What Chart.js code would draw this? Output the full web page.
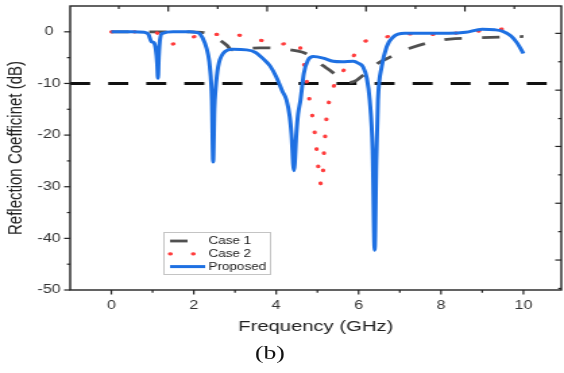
<!DOCTYPE html>
<html>
<head>
<meta charset="utf-8">
<script src="https://cdn.jsdelivr.net/npm/chart.js@4.4.1/dist/chart.umd.min.js"></script>
<style>
  html, body { margin: 0; padding: 0; background: #fff; overflow: hidden; }
  /* the source figure is stretched sideways, so the chart is drawn narrower and widened */
  #stage { position: relative; width: 418px; height: 373px; transform: scaleX(1.3493); transform-origin: 0 0; }
  #caption { position: absolute; left: 170px; width: 60px; top: 340px; text-align: center;
             font: 19px "Liberation Serif", "Times New Roman", serif; color: #111; line-height: 26px; }
</style>
</head>
<body>
<div id="stage">
  <canvas id="chart"></canvas>
  <div id="caption">(b)</div>
</div>
<script>
// Frequency (GHz) / reflection coefficient (dB)
const proposedFreq = [0, 0.5, 0.8, 0.9, 0.97, 1.03, 1.08, 1.11, 1.13, 1.15, 1.18, 1.24, 1.5, 1.9, 2.05, 2.15, 2.27, 2.35, 2.39, 2.44, 2.47, 2.5, 2.53, 2.59, 2.71, 2.95, 3.28, 3.5, 3.68, 3.85, 4.0, 4.15, 4.25, 4.33, 4.37, 4.43, 4.49, 4.53, 4.59, 4.67, 4.77, 4.9, 5.14, 5.38, 5.6, 5.87, 6.0, 6.11, 6.2, 6.27, 6.34, 6.39, 6.43, 6.47, 6.56, 6.68, 6.84, 7.12, 7.6, 8.2, 8.6, 9.0, 9.3, 9.5, 9.7, 9.85, 10.0];
const proposedDb = [0, 0, -0.1, -0.5, -1.9, -2.1, -3.5, -6, -9.0, -5, -1.5, -0.3, 0, 0, -0.1, -0.4, -2.2, -4.5, -6.8, -13.2, -25.2, -15, -11, -6.8, -4.2, -3.4, -3.5, -4.0, -5.2, -6.6, -8.7, -11.5, -13.2, -16.5, -19.7, -26.9, -19.7, -16, -13.2, -8.1, -5.5, -4.8, -5.1, -5.7, -5.8, -5.7, -6.1, -6.8, -9, -13.2, -22.9, -42.3, -25, -13.2, -6.8, -2.9, -1.0, -0.3, -0.3, -0.3, -0.1, 0.5, 0.4, 0.1, -0.8, -2.2, -4.2];

const case1Freq = [0, 1.9, 2.2, 2.45, 2.63, 2.8, 2.92, 3.1, 3.36, 3.6, 3.8, 4.05, 4.28, 4.5, 4.69, 4.9, 5.06, 5.2, 5.34, 5.5, 5.65, 5.79, 5.95, 6.11, 6.3, 6.47, 6.76, 7.0, 7.24, 7.65, 8.21, 8.8, 9.5, 10.0];
const case1Db = [0, 0, -0.1, -0.6, -1.6, -2.6, -3.5, -3.5, -3.2, -3.1, -3.1, -3.2, -3.4, -3.7, -4.1, -5.0, -6.1, -6.9, -7.7, -8.7, -9.5, -9.8, -9.4, -8.4, -7.3, -6.1, -4.9, -4.0, -3.2, -2.2, -1.4, -1.2, -1.0, -0.9];

const case2Freq = [0, 0.9, 1.1, 1.3, 1.46, 1.65, 1.98, 2.56, 3.14, 3.6, 4.07, 4.3, 4.48, 4.58, 4.65, 4.72, 4.77, 4.84, 4.91, 4.96, 5.0, 5.04, 5.1, 5.14, 5.16, 5.19, 5.22, 5.28, 5.4, 5.6, 5.87, 6.07, 6.6, 7.16, 7.73, 8.29, 9.0, 9.43, 10.0];
const case2Db = [0, 0, -0.2, -1.8, -2.4, -1.8, -1.0, -0.5, -0.7, -1.6, -2.4, -2.2, -1.9, -3.0, -5.1, -8.4, -11.4, -14.6, -18, -21.3, -24.3, -27.6, -29.7, -26.5, -23.3, -20, -16.8, -13.6, -10.5, -7.9, -4.8, -2.3, -1.1, -0.4, -0.5, -0.3, 0.2, 0.5, 0.9];

const thresholdDb = -10;
const xRange = [-1, 10.92];
const yRange = [-50, 5];
const xTickLabels = [0, 2, 4, 6, 8, 10];
const xMinorTicks = [1, 3, 5, 7, 9];
const yTickLabels = [-50, -40, -30, -20, -10, 0];
const yMinorTicks = [-45, -35, -25, -15, -5];
// the mirrored top/right axes of the original have their own spacing
const topTicks = [0.18, 1.38, 2.58, 3.78, 4.98, 6.18, 7.38, 8.58, 9.78];
const rightTicks = [-0.3, -5.8, -11.3, -16.8, -22.2, -27.7, -33.2, -38.7, -44.2, -49.7];
const legendOrder = ['Case 1', 'Case 2', 'Proposed'];

const FONT = '"Liberation Sans", Arial, sans-serif';

const toPoints = (xs, ys) => xs.map((x, i) => ({ x, y: ys[i] }));

// Chart.js reserves room as if the end labels sat on the edges; ours do not
const noEdgePadding = s => { s.paddingLeft = 0; s.paddingRight = 0; s.paddingTop = 0; s.paddingBottom = 0; };

const framePlugin = {
  id: 'frame',
  afterDraw(chart) {
    const { ctx, chartArea: a, scales: { x, y } } = chart;
    const line = (x1, y1, x2, y2) => { ctx.beginPath(); ctx.moveTo(x1, y1); ctx.lineTo(x2, y2); ctx.stroke(); };
    ctx.save();
    ctx.strokeStyle = '#222';
    ctx.lineWidth = 1.4;
    ctx.strokeRect(a.left, a.top, a.right - a.left, a.bottom - a.top);
    ctx.lineWidth = 1.2;
    xTickLabels.forEach(v => { const p = x.getPixelForValue(v); line(p, a.bottom, p, a.bottom + 4.5); });
    xMinorTicks.forEach(v => { const p = x.getPixelForValue(v); line(p, a.bottom, p, a.bottom + 2.8); });
    yTickLabels.forEach(v => { const p = y.getPixelForValue(v); line(a.left, p, a.left - 4.5, p); });
    yMinorTicks.forEach(v => { const p = y.getPixelForValue(v); line(a.left, p, a.left - 2.4, p); });
    topTicks.forEach((v, i) => { const p = x.getPixelForValue(v); line(p, a.top, p, a.top + (i % 2 ? 5.5 : 3)); });
    rightTicks.forEach((v, i) => { const p = y.getPixelForValue(v); line(a.right, p, a.right - (i % 2 ? 2.4 : 4.5), p); });
    ctx.restore();
  }
};

const legendPlugin = {
  id: 'boxLegend',
  afterDraw(chart) {
    const ctx = chart.ctx;
    ctx.save();
    ctx.fillStyle = '#fff';
    ctx.strokeStyle = '#c4c4c4';
    ctx.lineWidth = 1;
    ctx.fillRect(121, 232, 79, 42);
    ctx.strokeRect(121.5, 232.5, 79, 42);
    legendOrder.forEach((label, i) => {
      const ds = chart.data.datasets.find(d => d.label === label);
      const yy = 241 + i * 12.8;
      ctx.strokeStyle = ds.borderColor;
      ctx.lineWidth = ds.borderWidth;
      ctx.lineCap = ds.borderCapStyle || 'butt';
      ctx.setLineDash(ds.borderDash || []);
      ctx.beginPath(); ctx.moveTo(126, yy); ctx.lineTo(152, yy); ctx.stroke();
      ctx.setLineDash([]);
      ctx.fillStyle = '#222';
      ctx.font = '10px ' + FONT;
      ctx.textBaseline = 'middle';
      ctx.fillText(label, 154.5, yy + 0.5);
    });
    ctx.restore();
  }
};

new Chart(document.getElementById('chart'), {
  type: 'line',
  data: {
    datasets: [
      {
        label: 'Proposed', data: toPoints(proposedFreq, proposedDb), order: 0,
        borderColor: '#1e70e2', borderWidth: 3, cubicInterpolationMode: 'monotone'
      },
      {
        label: 'Case 2', data: toPoints(case2Freq, case2Db), order: 1,
        borderColor: '#ff3c3c', borderWidth: 3.2, borderDash: [0.5, 16.5], borderCapStyle: 'round',
        cubicInterpolationMode: 'monotone'
      },
      {
        label: 'Case 1', data: toPoints(case1Freq, case1Db), order: 2,
        borderColor: '#505050', borderWidth: 2.8, borderDash: [13, 15], cubicInterpolationMode: 'monotone'
      },
      {
        label: '-10 dB', data: [{ x: xRange[0], y: thresholdDb }, { x: xRange[1], y: thresholdDb }], order: 3,
        borderColor: '#111', borderWidth: 3, borderDash: [14.8, 13.4]
      }
    ]
  },
  options: {
    responsive: true,
    maintainAspectRatio: false,
    animation: false,
    elements: { point: { radius: 0 } },
    layout: { padding: { left: 0, right: 2, top: 6, bottom: 33 } },
    plugins: { legend: { display: false }, tooltip: { enabled: false } },
    scales: {
      x: {
        type: 'linear', min: xRange[0], max: xRange[1],
        grid: { display: false, drawTicks: false },
        border: { display: false },
        afterBuildTicks: s => { s.ticks = xTickLabels.map(v => ({ value: v })); },
        afterFit: s => { s.height = 50; noEdgePadding(s); },
        ticks: { padding: 8, color: '#333', font: { family: FONT, size: 12 }, maxRotation: 0, autoSkip: false },
        title: { display: true, text: 'Frequency (GHz)', color: '#222', font: { family: FONT, size: 15 }, padding: { top: 0, bottom: 4 } }
      },
      y: {
        type: 'linear', min: yRange[0], max: yRange[1],
        grid: { display: false, drawTicks: false },
        border: { display: false },
        afterBuildTicks: s => { s.ticks = yTickLabels.map(v => ({ value: v })); },
        afterFit: s => { s.width = 52; noEdgePadding(s); },
        ticks: { padding: 7, crossAlign: 'center', color: '#333', font: { family: FONT, size: 12 } },
        title: { display: true, text: 'Reflection Coefficinet (dB)', color: '#222', font: { family: FONT, size: 15 }, padding: { top: 3, bottom: 0 } }
      }
    }
  },
  plugins: [framePlugin, legendPlugin]
});
</script>
</body>
</html>
